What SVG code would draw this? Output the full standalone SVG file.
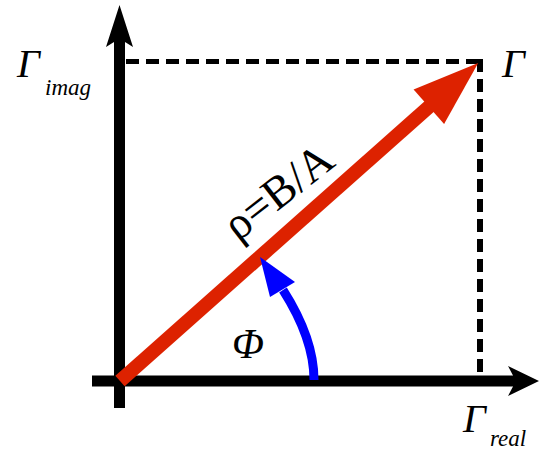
<svg xmlns="http://www.w3.org/2000/svg" width="540" height="451" viewBox="0 0 540 451">
  <style>
    .axis { fill: #000; }
    .dash { stroke: #000; fill: none; stroke-dasharray: 13 7; }
  </style>
  <rect width="540" height="451" fill="#fff"/>
  <g id="connectors">
    <g id="dashed-guides">
      <line class="dash" x1="126" y1="61.5" x2="483" y2="61.5" stroke-width="5"/>
      <line class="dash" x1="480" y1="59" x2="480" y2="376" stroke-width="6"/>
    </g>
    <g id="axis-imag">
      <rect class="axis" x="114" y="40" width="11" height="368"/>
      <polygon class="axis" points="119.5,5 133,47 125,42 114,42 106,47"/>
    </g>
    <g id="axis-real">
      <rect class="axis" x="92" y="375.5" width="423" height="11"/>
      <polygon class="axis" points="539,381 508,366 513,375.5 513,386.5 508,396"/>
    </g>
    <g id="vector-rho" transform="translate(120,381) rotate(-41.6)">
      <rect x="0" y="-7" width="420" height="14" fill="#dd2200"/>
      <polygon points="479,0 413,-23 413,23" fill="#dd2200"/>
    </g>
    <g id="angle-phi">
      <path d="M314,380 C314,345 297,312 283,290" fill="none" stroke="#0000ff" stroke-width="9"/>
      <polygon points="260,257 270,297 295,282" fill="#0000ff"/>
    </g>
  </g>
  <g id="label-gamma-imag" font-family="Liberation Serif" font-style="italic">
    <text x="17" y="77" font-size="40">Γ</text>
    <text x="45" y="95" font-size="23">imag</text>
  </g>
  <g id="label-gamma" font-family="Liberation Serif" font-style="italic">
    <text x="502" y="77" font-size="40">Γ</text>
  </g>
  <g id="label-gamma-real" font-family="Liberation Serif" font-style="italic">
    <text x="463" y="432" font-size="40">Γ</text>
    <text x="490" y="446" font-size="23">real</text>
  </g>
  <g id="label-phi" font-family="Liberation Serif" font-style="italic">
    <text x="232" y="358" font-size="42">Φ</text>
  </g>
  <g id="label-rho" font-family="Liberation Serif">
    <text transform="translate(238,242) rotate(-38)" font-size="46">ρ=B/A</text>
  </g>
</svg>
